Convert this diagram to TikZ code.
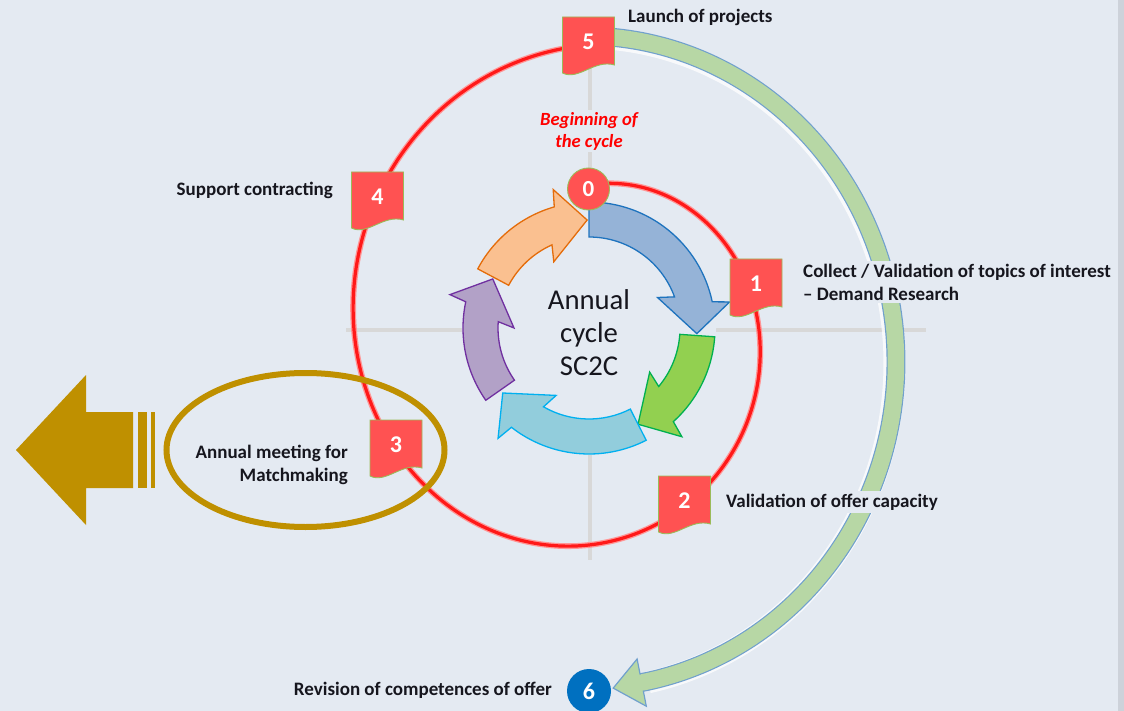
\documentclass[tikz,border=0pt]{standalone}
\usepackage{fontspec}
\usetikzlibrary{calc}
\setmainfont{Carlito}
\definecolor{bg}{RGB}{228,234,242}
\definecolor{edgegray}{RGB}{205,210,218}
\definecolor{flagred}{RGB}{255,82,82}
\definecolor{flagedge}{RGB}{155,187,89}
\definecolor{spiralred}{RGB}{255,25,25}
\definecolor{spiralglow}{RGB}{255,150,150}
\definecolor{gold}{RGB}{191,144,0}
\definecolor{bandfill}{RGB}{183,215,165}
\definecolor{bandedge}{RGB}{112,160,205}
\definecolor{grayline}{RGB}{216,216,216}
\definecolor{txt}{RGB}{22,22,30}
\definecolor{bluefill}{RGB}{149,179,215}
\definecolor{bluedraw}{RGB}{30,115,190}
\definecolor{greenfill}{RGB}{146,208,80}
\definecolor{greendraw}{RGB}{0,176,80}
\definecolor{cyanfill}{RGB}{146,205,220}
\definecolor{cyandraw}{RGB}{0,176,240}
\definecolor{purplefill}{RGB}{178,161,199}
\definecolor{purpledraw}{RGB}{112,48,160}
\definecolor{orangefill}{RGB}{250,192,144}
\definecolor{orangedraw}{RGB}{228,108,10}
\definecolor{blue6}{RGB}{0,112,192}
\tikzset{
  flagpic/.pic={\filldraw[fill=flagred, draw=flagedge, line width=0.9]
     (-26,-28) -- (26,-28) -- (26,20) .. controls (6,14) and (-10,36) .. (-26,28) -- cycle;},
  num/.style={text=white, font=\fontsize{24}{24}\selectfont\bfseries, inner sep=0pt},
  lbl/.style={text=txt, font=\fontsize{19}{23}\selectfont\bfseries, inner sep=3pt},
  beginlbl/.style={text=red, font=\fontsize{18.6}{22}\selectfont\bfseries\itshape, align=center, fill=bg, inner sep=2pt},
  ringlbl/.style={text=txt, font=\fontsize{28.7}{33}\selectfont, align=center},
}
% curved block arrow: fill, draw, start angle, tip angle
\newcommand\cycarrow[4]{%
  \pgfmathsetmacro\ao{#4-15}\pgfmathsetmacro\abo{#4-13.5}%
  \pgfmathsetmacro\abi{#4-27}\pgfmathsetmacro\ai{#4-23}%
  \filldraw[fill=#1, draw=#2, line width=1.3, line join=miter]
    (#3:126) arc[start angle=#3, end angle=\ao, radius=126] -- (\abo:143) -- (#4:108)
    -- (\abi:75) -- (\ai:91) arc[start angle=\ai, end angle=#3, radius=91] -- cycle;}
\begin{document}
\begin{tikzpicture}[x=1pt,y=-1pt]
\fill[bg] (0,0) rectangle (1124,711);
\fill[edgegray] (1118,0) rectangle (1124,711);
\useasboundingbox (0,0) rectangle (1124,711);

% cross lines
\coordinate (hl) at (346,330); \coordinate (hr) at (926,330);
\coordinate (vt) at (590,62); \coordinate (vb) at (590,560);
\draw[grayline, line width=4.5] (hl) -- (hr);
\draw[grayline, line width=4.5] (vt) -- (vb);
\fill[bg] (589,328) circle[radius=127];

% red spiral (from 0 round to 5)
\draw[draw=spiralglow, double=spiralred, double distance=3.2, line width=1.3]
  plot[domain=-84:268, samples=140, smooth, variable=\t]
  ({589+(170+0.3611*\t)*cos(\t)}, {330+(180+0.3889*\t)*sin(\t)});

% green band 5 -> 6
\draw[draw=white, line width=22, opacity=.75]
  plot[domain=-84:78, samples=100, smooth, variable=\t]
  ({583.5+311*cos(\t)}, {363.5+326*sin(\t)});
\draw[draw=bandedge, double=bandfill, double distance=16.5, line width=1.2]
  plot[domain=-85:79.6, samples=100, smooth, variable=\t]
  ({585+311*cos(\t)}, {362+326*sin(\t)});
\coordinate (hb1) at (637.1,659.0);
\coordinate (hb2) at (646.3,706.2);
\coordinate (htip) at (613.2,688.1);
\fill[bandfill] (hb1) -- (htip) -- (hb2) -- cycle;
\draw[bandedge, line width=1.2] ($(hb1)!0.33!(hb2)$) -- (hb1) -- (htip) -- (hb2) -- ($(hb2)!0.33!(hb1)$);

% labels with background (cover band and lines)
\node[lbl, anchor=west] (l5) at (625,17) {Launch of projects};
\node[lbl, anchor=east] (l4) at (336,190) {Support contracting};
\node[lbl, anchor=west, align=left, fill=bg] (l1) at (800,282) {Collect / Validation of topics of interest\\– Demand Research};
\node[lbl, anchor=east, align=right] (l3) at (351,465) {Annual meeting for\\Matchmaking};
\node[lbl, anchor=west, fill=bg] (l2) at (723,502) {Validation of offer capacity};
\node[lbl, anchor=east] (l6) at (555,690) {Revision of competences of offer};
\node[beginlbl] (l0) at (589,131) {Beginning of\\the cycle};

% cycle arrows
\begin{scope}[shift={(589,328)}]
\cycarrow{bluefill}{bluedraw}{-90}{3}
\cycarrow{greenfill}{greendraw}{4}{63}
\cycarrow{cyanfill}{cyandraw}{63}{143}
\cycarrow{purplefill}{purpledraw}{145}{207}
\cycarrow{orangefill}{orangedraw}{208}{269}
\end{scope}
\node[ringlbl] (ring) at (589,333) {Annual\\cycle\\SC2C};

% markers
\pic at (588.5,45) {flagpic}; \node[num] (m5) at (588.5,42) {5};
\pic at (377.5,200) {flagpic}; \node[num] (m4) at (377.5,197) {4};
\pic at (756,287) {flagpic}; \node[num] (m1) at (756,284) {1};
\pic at (396,448) {flagpic}; \node[num] (m3) at (396,445) {3};
\pic at (684.5,504) {flagpic}; \node[num] (m2) at (684.5,501) {2};
\node[circle, fill=flagred, draw=flagedge, line width=0.9, minimum size=42pt, inner sep=0pt, text=white, font=\fontsize{23}{23}\selectfont\bfseries] (m0) at (588.5,189) {0};
\node[circle, fill=blue6, minimum size=44pt, inner sep=0pt, text=white, font=\fontsize{24}{24}\selectfont\bfseries] (m6) at (589,691) {6};

% gold ellipse and arrow
\draw[gold, line width=6] (305.5,450) ellipse[x radius=139, y radius=77];
\fill[gold] (16,450) -- (86,375) -- (86,412) -- (133,412) -- (133,488) -- (86,488) -- (86,525) -- cycle;
\fill[gold] (138,412) rectangle (147,488);
\fill[gold] (151,412) rectangle (155,488);
\end{tikzpicture}
\end{document}
